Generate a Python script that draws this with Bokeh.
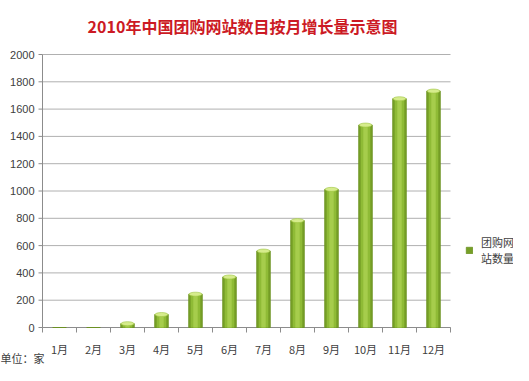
from bokeh.plotting import figure
from bokeh.models import (ColumnDataSource, Label, Legend, LegendItem, Range1d)
from bokeh.embed import file_html
from bokeh.resources import INLINE

months = ["1月", "2月", "3月", "4月", "5月", "6月", "7月", "8月", "9月", "10月", "11月", "12月"]
counts = [0, 0, 28, 95, 244, 370, 560, 783, 1012, 1483, 1676, 1732]
y_ticks = [0, 200, 400, 600, 800, 1000, 1200, 1400, 1600, 1800, 2000]
title_text = "2010年中国团购网站数目按月增长量示意图"
legend_text = "团购网\n站数量"
unit_text = "单位：家"

CJK = "Noto Sans CJK SC"
W, H = 513, 365
# plot-area geometry in canvas pixels
LEFT, RIGHT, TOP, BOTTOM = 42, 450, 54, 327
n = len(months)
cat_px = (RIGHT - LEFT) / n
y_max = y_ticks[-1]
px_y = y_max / (BOTTOM - TOP)          # data units per pixel (y)
px_x = 1.0 / cat_px                    # data units per pixel (x)
x_lo, x_hi = 0.5, n + 0.5

xs = list(range(1, n + 1))
src = ColumnDataSource(dict(x=xs, top=counts))
nz = [i for i, c in enumerate(counts) if c > 0]
cap_src = ColumnDataSource(dict(x=[xs[i] for i in nz], top=[counts[i] for i in nz]))

p = figure(width=W, height=H, output_backend="svg", toolbar_location=None,
           x_axis_type=None, y_axis_type=None,
           x_range=Range1d(x_lo - LEFT * px_x, x_lo + (W - LEFT) * px_x),
           y_range=Range1d(-(H - BOTTOM) * px_y, y_max + TOP * px_y),
           min_border=0)
p.outline_line_color = None
p.background_fill_color = "white"
p.grid.visible = False

# gridlines
p.segment(x0=[x_lo] * len(y_ticks), x1=[x_hi] * len(y_ticks), y0=y_ticks, y1=y_ticks,
          line_color="#b0b0b0", line_width=1)
# axis lines
p.segment(x0=[x_lo, x_lo], x1=[x_lo, x_hi], y0=[0, 0], y1=[y_max, 0],
          line_color="#8c8c8c", line_width=1)
# y ticks
p.segment(x0=[x_lo - 4 * px_x] * len(y_ticks), x1=[x_lo] * len(y_ticks),
          y0=y_ticks, y1=y_ticks, line_color="#8c8c8c", line_width=1)
# x ticks at category boundaries
bounds = [i + 0.5 for i in range(0, n + 1)]
p.segment(x0=bounds, x1=bounds, y0=[0] * len(bounds), y1=[-5 * px_y] * len(bounds),
          line_color="#8c8c8c", line_width=1)

# bars
base = p.vbar(x="x", top="top", width=0.40, bottom=0, source=src,
              fill_color="#769f27", line_color="#6a9120", line_width=0.8)
p.vbar(x="x", top="top", width=0.28, bottom=0, source=src,
       fill_color="#8fbb36", line_color=None)
p.vbar(x="x", top="top", width=0.13, bottom=0, source=src,
       fill_color="#a6cd4c", line_color=None)
p.ellipse(x="x", y="top", width=0.38, height=4, height_units="screen", source=cap_src,
          fill_color="#d6ec8c", line_color="#9dc540", line_width=0.6)

# tick labels
p.text(x=[x_lo] * len(y_ticks), y=y_ticks, text=[str(t) for t in y_ticks],
       x_offset=-8, text_align="right", text_baseline="middle",
       text_font={"value": "Liberation Sans"}, text_font_size="11px",
       text_color="#404040")
p.text(x=xs, y=[0] * n, text=months, y_offset=21, text_align="center",
       text_baseline="middle", text_font={"value": CJK}, text_font_size="11px",
       text_color="#404040")

# title (screen units relative to the frame = whole canvas)
p.add_layout(Label(x=242, y=H - 25, x_units="screen", y_units="screen", text=title_text,
                   text_font=CJK, text_font_size="16px", text_font_style="bold",
                   text_color="#cc1a24", text_align="center", text_baseline="middle"))
# unit label
p.add_layout(Label(x=0, y=0, x_units="screen", y_units="screen", text=unit_text,
                   text_font=CJK, text_font_size="11px", text_color="#404040",
                   text_align="left", text_baseline="bottom"))

legend = Legend(items=[LegendItem(label=legend_text, renderers=[base])],
                location=(465, 99), border_line_color=None, background_fill_alpha=0,
                label_text_font=CJK, label_text_font_size="11px",
                label_text_color="#404040", glyph_width=8, glyph_height=8,
                label_standoff=8, padding=3, margin=0)
p.add_layout(legend, "center")

open("out.html", "w").write(file_html(p, INLINE))
